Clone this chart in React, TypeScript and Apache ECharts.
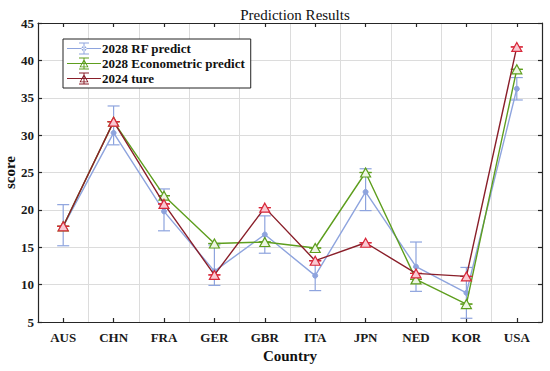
import React, { useEffect, useRef } from "react";
import * as echarts from "echarts";

const countries = ["AUS", "CHN", "FRA", "GER", "GBR", "ITA", "JPN", "NED", "KOR", "USA"];
const rfPredict = [17.8, 30.3, 19.8, 11.8, 16.7, 11.2, 22.4, 12.4, 8.9, 36.2];
const rfLower = [15.2, 28.7, 17.2, 9.9, 14.2, 9.2, 19.9, 9.1, 5.5, 34.7];
const rfUpper = [20.7, 33.9, 22.8, 15.3, 19.2, 13.2, 25.5, 15.7, 12.3, 37.7];
const econPredict = [17.8, 31.8, 21.9, 15.5, 15.7, 14.9, 25.0, 10.7, 7.4, 38.8];
const true2024 = [17.8, 31.8, 20.8, 11.3, 20.3, 13.2, 15.6, 11.5, 11.1, 41.8];
const yTicks = { min: 5, max: 45, interval: 5 };

const BLUE = "#8EA4DE";
const GREEN = "#5E9E1E";
const DARKRED = "#8A1F2A";
const RED = "#D8283A";
const FONT = "Liberation Serif";

const errSeries = (name: string, lo: number[], hi: number[], color: string, z: number) => ({
  type: "custom",
  name,
  z,
  silent: true,
  data: lo.map((l, i) => [i, l, hi[i]]),
  encode: { x: 0, y: [1, 2] },
  renderItem: (params: any, api: any) => {
    const x = api.value(0);
    const pLo = api.coord([x, api.value(1)]);
    const pHi = api.coord([x, api.value(2)]);
    const w = 6;
    const style = { stroke: color, lineWidth: 1.2 };
    return {
      type: "group",
      children: [
        { type: "line", shape: { x1: pLo[0], y1: pLo[1], x2: pHi[0], y2: pHi[1] }, style },
        { type: "line", shape: { x1: pLo[0] - w, y1: pLo[1], x2: pLo[0] + w, y2: pLo[1] }, style },
        { type: "line", shape: { x1: pHi[0] - w, y1: pHi[1], x2: pHi[0] + w, y2: pHi[1] }, style },
      ],
    };
  },
});

const barIcon = "M0,5.5h34v1h-34z M16.5,0h1v12h-1z M12,0h10v1h-10z M12,11h10v1h-10z";
const iconRF = "path://" + barIcon + " M14.5,6a2.5,2.5 0 1,0 5,0a2.5,2.5 0 1,0 -5,0z";
const iconTri =
  "path://" + barIcon + " M17,1.5 L21.5,9.8 L12.5,9.8 Z M17,3.6 L13.9,8.9 L20.1,8.9 Z";

export default function App() {
  const ref = useRef<HTMLDivElement>(null);
  useEffect(() => {
    if (!ref.current) return;
    const chart = echarts.init(ref.current, null, { renderer: "svg" });
    const axisLine = { show: true, lineStyle: { color: "#262626", width: 1.2 } };
    const tick = { show: true, inside: true, length: 4, lineStyle: { color: "#262626", width: 1.2 } };
    const labelStyle = { fontFamily: FONT, fontWeight: "bold", fontSize: 13, color: "#1a1a1a" };
    chart.setOption({
      animation: false,
      backgroundColor: "#ffffff",
      title: {
        text: "Prediction Results",
        left: 290,
        textAlign: "center",
        top: 2,
        textStyle: { fontFamily: FONT, fontWeight: "normal", fontSize: 15, color: "#111" },
      },
      legend: {
        orient: "vertical",
        left: 63,
        top: 39,
        padding: [3, 6, 3, 4],
        itemGap: 2,
        itemWidth: 34,
        itemHeight: 12,
        borderColor: "#222",
        borderWidth: 1,
        borderRadius: 0,
        backgroundColor: "#fff",
        symbolKeepAspect: true,
        textStyle: { fontFamily: FONT, fontWeight: "bold", fontSize: 13, color: "#111", padding: [0, 0, 0, -4] },
        data: [
          { name: "2028 RF predict", icon: iconRF, itemStyle: { color: BLUE, borderWidth: 0 } },
          { name: "2028 Econometric predict", icon: iconTri, itemStyle: { color: GREEN, borderWidth: 0 } },
          { name: "2024 ture", icon: iconTri, itemStyle: { color: DARKRED, borderWidth: 0 } },
        ],
      },
      grid: { left: 38, right: 8, top: 23, bottom: 49, containLabel: false, outerBoundsMode: "none" },
      xAxis: [
        {
          type: "category",
          data: countries,
          axisLine,
          axisTick: { ...tick, alignWithLabel: true },
          axisLabel: { ...labelStyle, margin: 9 },
          splitLine: { show: true, lineStyle: { color: "#dcdcdc", width: 1 } },
          name: "Country",
          nameLocation: "middle",
          nameGap: 26,
          nameMoveOverlap: false,
          nameTextStyle: { fontFamily: FONT, fontWeight: "bold", fontSize: 15, color: "#111" },
        },
        {
          type: "category",
          position: "top",
          data: countries,
          axisLine,
          axisTick: { ...tick, alignWithLabel: true },
          axisLabel: { show: false },
          splitLine: { show: false },
        },
      ],
      yAxis: [
        {
          type: "value",
          ...yTicks,
          axisLine,
          axisTick: tick,
          axisLabel: { ...labelStyle, margin: 4 },
          splitLine: { show: true, lineStyle: { color: "#dcdcdc", width: 1 } },
          name: "score",
          nameLocation: "middle",
          nameGap: 21,
          nameMoveOverlap: false,
          nameTextStyle: { fontFamily: FONT, fontWeight: "bold", fontSize: 15, color: "#111" },
        },
        {
          type: "value",
          position: "right",
          ...yTicks,
          axisLine,
          axisTick: tick,
          axisLabel: { show: false },
          splitLine: { show: false },
        },
      ],
      series: [
        errSeries("rf-err", rfLower, rfUpper, BLUE, 2),
        {
          type: "line",
          name: "2028 RF predict",
          data: rfPredict,
          z: 3,
          symbol: "circle",
          symbolSize: 5,
          lineStyle: { color: BLUE, width: 1.4 },
          itemStyle: { color: BLUE, borderColor: BLUE },
        },
        errSeries("econ-err", econPredict, econPredict, GREEN, 4),
        {
          type: "line",
          name: "2028 Econometric predict",
          data: econPredict,
          z: 5,
          symbol: "triangle",
          symbolSize: [10, 9],
          lineStyle: { color: GREEN, width: 1.4 },
          itemStyle: { color: "#eef6e4", borderColor: GREEN, borderWidth: 1.2 },
        },
        errSeries("true-err", true2024, true2024, RED, 6),
        {
          type: "line",
          name: "2024 ture",
          data: true2024,
          z: 7,
          symbol: "triangle",
          symbolSize: [10, 9],
          lineStyle: { color: DARKRED, width: 1.4 },
          itemStyle: { color: "#f9c9d2", borderColor: RED, borderWidth: 1.2 },
        },
      ],
    });
    return () => chart.dispose();
  }, []);
  return <div ref={ref} style={{ width: 550, height: 371, position: "absolute", left: 0, top: 0 }} />;
}
